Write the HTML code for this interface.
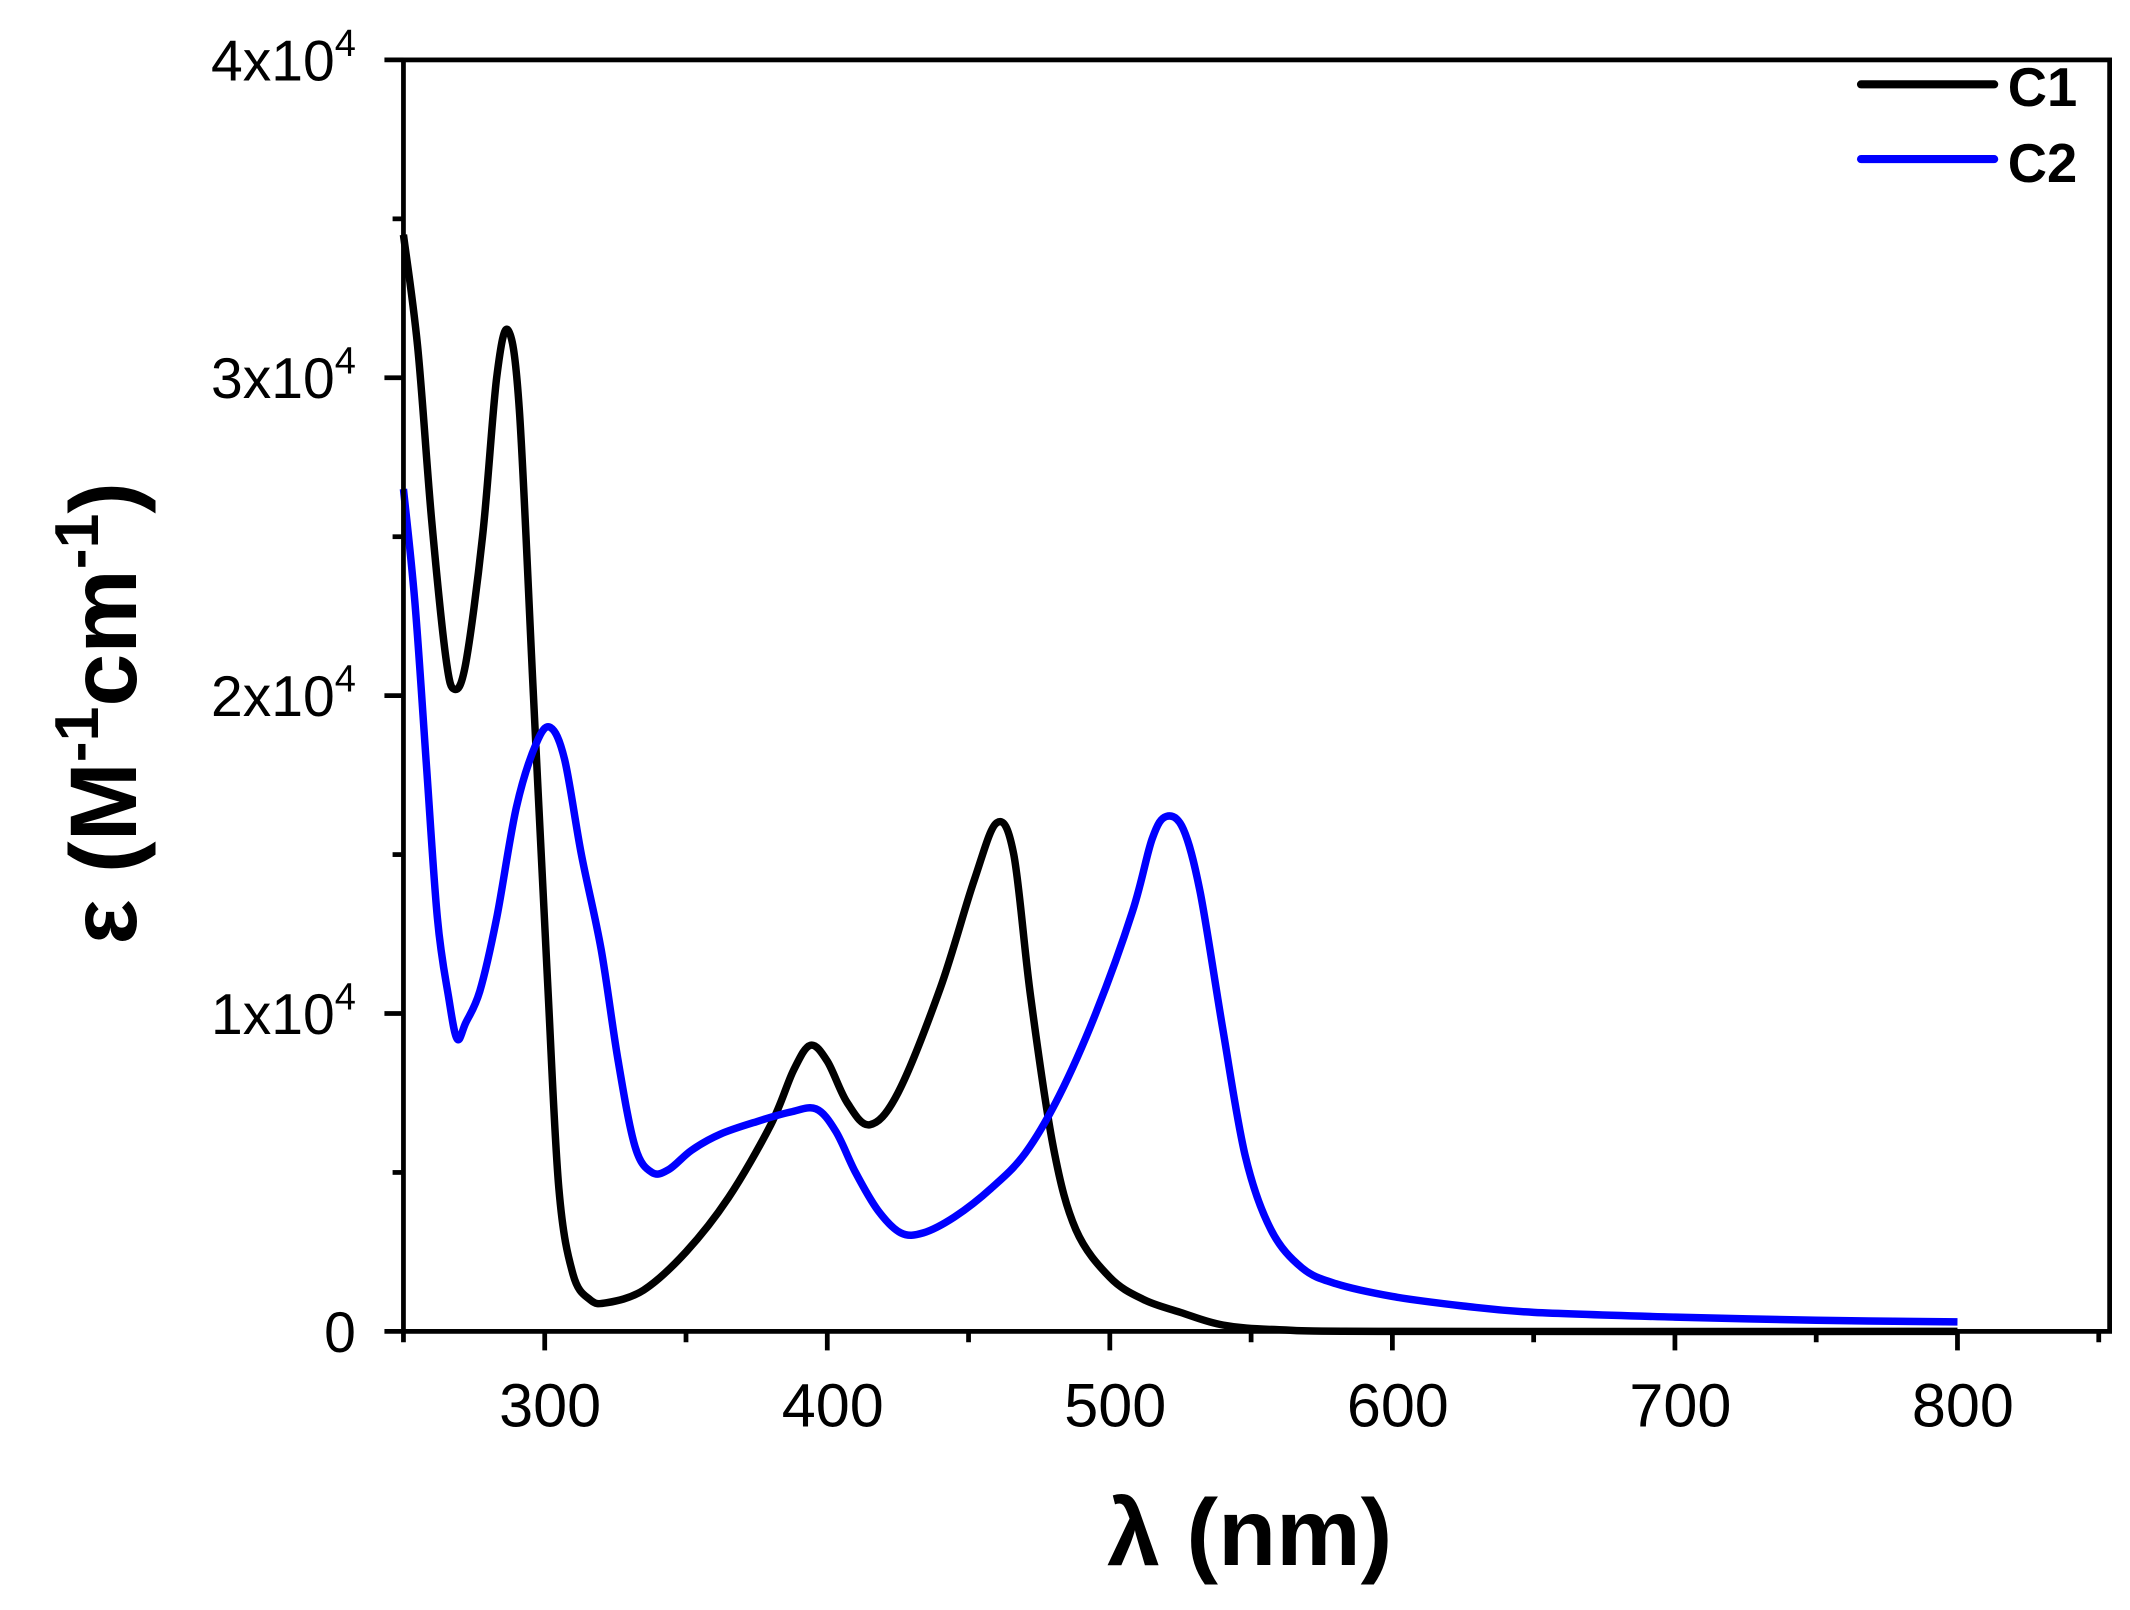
<!DOCTYPE html>
<html><head><style>body{margin:0;background:#fff}svg{display:block}</style></head>
<body>
<svg id="s" width="2130" height="1610" viewBox="0 0 1568 1185" xmlns="http://www.w3.org/2000/svg" font-family="Liberation Sans, Arial, sans-serif">
<rect width="1568" height="1185" fill="#fff"/>
<g id="ticks" stroke="#000" stroke-width="3.5"></g>
<path id="c1" fill="none" stroke="#000" stroke-width="5.5" stroke-linejoin="round"/>
<path id="c2" fill="none" stroke="#0000ff" stroke-width="5.5" stroke-linejoin="round"/>
<rect x="297" y="44" width="1256" height="936" fill="none" stroke="#000" stroke-width="3.5"/>
<g font-size="45" text-anchor="middle">
<text x="405" y="1050">300</text><text x="613" y="1050">400</text><text x="821" y="1050">500</text>
<text x="1029" y="1050">600</text><text x="1237" y="1050">700</text><text x="1445" y="1050">800</text>
</g>
<g font-size="42" text-anchor="end">
<text x="262" y="995">0</text>
<text x="262" y="761">1x10<tspan font-size="28" dy="-18">4</tspan></text>
<text x="262" y="527">2x10<tspan font-size="28" dy="-18">4</tspan></text>
<text x="262" y="293">3x10<tspan font-size="28" dy="-18">4</tspan></text>
<text x="262" y="59">4x10<tspan font-size="28" dy="-18">4</tspan></text>
</g>
<text x="920" y="1152" font-size="70" font-weight="bold" text-anchor="middle">λ (nm)</text>
<text transform="translate(100,525) rotate(-90)" font-size="70" font-weight="bold" text-anchor="middle">ε (M<tspan font-size="46" dy="-28">-1</tspan><tspan dy="28">cm</tspan><tspan font-size="46" dy="-28">-1</tspan><tspan dy="28">)</tspan></text>
<line x1="1370" y1="62" x2="1468" y2="62" stroke="#000" stroke-width="6" stroke-linecap="round"/>
<line x1="1370" y1="117" x2="1468" y2="117" stroke="#0000ff" stroke-width="6" stroke-linecap="round"/>
<g font-size="40" font-weight="bold"><text x="1478" y="78">C1</text><text x="1478" y="134">C2</text></g>
</svg>
<script>
function X(n){return 297+(n-250)*2.08}function Y(v){return 980-v*234}
function path(pts){var p=pts.map(function(a){return[X(a[0]),Y(a[1])]});var d="M"+p[0][0].toFixed(1)+","+p[0][1].toFixed(1);
for(var i=0;i<p.length-1;i++){var p0=p[i-1]||p[i],p1=p[i],p2=p[i+1],p3=p[i+2]||p2;
d+="C"+(p1[0]+(p2[0]-p0[0])/6).toFixed(1)+","+(p1[1]+(p2[1]-p0[1])/6).toFixed(1)+" "+(p2[0]-(p3[0]-p1[0])/6).toFixed(1)+","+(p2[1]-(p3[1]-p1[1])/6).toFixed(1)+" "+p2[0].toFixed(1)+","+p2[1].toFixed(1);}return d;}
var c1=[[250,3.45],[255,3.1],[260,2.55],[265,2.12],[268,2.02],[272,2.1],[278,2.5],[283,3.0],[287,3.15],[291,2.9],[296,2.0],[301,1.1],[305,0.45],[310,0.18],[316,0.1],[322,0.09],[335,0.13],[350,0.25],[365,0.42],[380,0.65],[388,0.82],[394,0.9],[400,0.85],[407,0.72],[415,0.65],[425,0.75],[440,1.08],[452,1.42],[460,1.6],[466,1.5],[472,1.05],[480,0.58],[488,0.32],[500,0.17],[512,0.1],[525,0.06],[540,0.02],[560,0.005],[600,0],[800,0]];
var c2=[[250,2.65],[254,2.3],[258,1.8],[262,1.3],[266,1.05],[269,0.92],[272,0.97],[277,1.07],[283,1.3],[290,1.65],[297,1.85],[302,1.9],[307,1.8],[313,1.5],[320,1.2],[326,0.85],[332,0.58],[338,0.5],[344,0.51],[352,0.57],[362,0.62],[375,0.66],[387,0.69],[396,0.7],[403,0.63],[410,0.5],[418,0.38],[426,0.31],[434,0.31],[445,0.36],[458,0.45],[470,0.56],[482,0.74],[495,1.0],[508,1.32],[515,1.55],[520,1.62],[526,1.58],[532,1.38],[540,0.95],[548,0.55],[557,0.32],[568,0.2],[580,0.15],[600,0.11],[625,0.08],[650,0.06],[700,0.045],[750,0.035],[800,0.03]];
document.getElementById('c1').setAttribute('d',path(c1));
document.getElementById('c2').setAttribute('d',path(c2));
var t="";for(var n=250;n<=850;n+=50){var maj=n%100==0;t+='<line x1="'+X(n)+'" y1="980" x2="'+X(n)+'" y2="'+(maj?994:988)+'"/>';}
for(var v=0;v<=4;v+=0.5){var maj=v%1==0;t+='<line x1="'+(maj?283:289)+'" y1="'+Y(v)+'" x2="297" y2="'+Y(v)+'"/>';}
document.getElementById('ticks').innerHTML=t;
</script>
</body></html>
